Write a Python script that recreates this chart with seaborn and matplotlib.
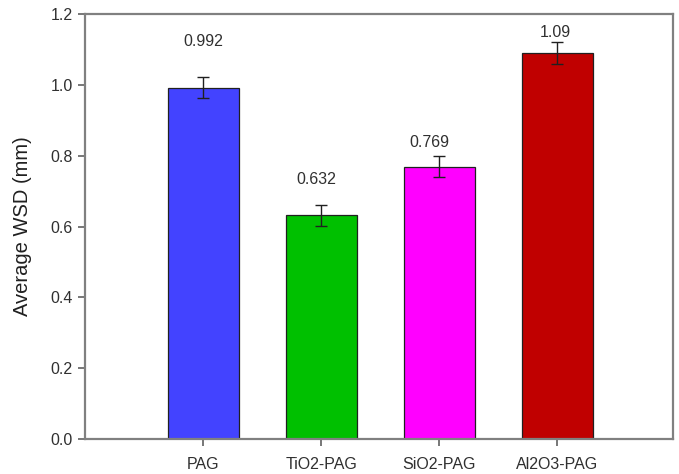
import matplotlib
matplotlib.use("Agg")
import matplotlib.pyplot as plt
import seaborn as sns
import pandas as pd

# Wear scar diameter for the base oil and the three nanolubricants
categories = ["PAG", "TiO2-PAG", "SiO2-PAG", "Al2O3-PAG"]
wsd_mean = [0.992, 0.632, 0.769, 1.09]
wsd_err = [0.03, 0.03, 0.03, 0.03]
value_labels = ["0.992", "0.632", "0.769", "1.09"]
bar_colors = ["#4343FF", "#00C000", "#FF00FF", "#C00000"]
label_heights = [1.122, 0.734, 0.836, 1.147]
label_shift = [0.0, -0.04, -0.08, -0.02]

sns.set_theme(style="white")
plt.rcParams["font.family"] = ["Liberation Sans", "DejaVu Sans"]

df = pd.DataFrame({"Sample": categories, "WSD": wsd_mean})

fig = plt.figure(figsize=(6.79, 4.74), dpi=100)
ax = fig.add_axes([0.1252, 0.0738, 0.866, 0.8967])

sns.barplot(data=df, x="Sample", y="WSD", hue="Sample", palette=bar_colors,
            order=categories, hue_order=categories, width=0.6, legend=False,
            edgecolor="#202020", linewidth=0.9, saturation=1, ax=ax)

xpos = list(range(len(categories)))
ax.errorbar(xpos, wsd_mean, yerr=wsd_err, fmt="none", ecolor="#202020",
            elinewidth=1.0, capsize=4.5, capthick=1.0, zorder=5)

for x, h, txt, dx in zip(xpos, label_heights, value_labels, label_shift):
    ax.text(x + dx, h, txt, ha="center", va="center", fontsize=11.5, color="#303030")

ax.set_xlim(-1, 3.98)
ax.set_ylim(0, 1.2)
ax.set_yticks([0.0, 0.2, 0.4, 0.6, 0.8, 1.0, 1.2])
ax.set_yticklabels(["0.0", "0.2", "0.4", "0.6", "0.8", "1.0", "1.2"])
ax.set_xlabel("")
ax.set_ylabel("Average WSD (mm)", fontsize=14.5, color="#202020", labelpad=13)

for side in ["left", "right", "top", "bottom"]:
    ax.spines[side].set_visible(True)
    ax.spines[side].set_color("#808080")
    ax.spines[side].set_linewidth(1.6)

ax.tick_params(axis="both", direction="out", length=5, width=1.2, color="#606060",
               labelsize=11.5, labelcolor="#303030", left=True, bottom=True,
               right=False, top=False, pad=4)
ax.tick_params(axis="x", pad=8)

fig.savefig("out.png", dpi=100)
